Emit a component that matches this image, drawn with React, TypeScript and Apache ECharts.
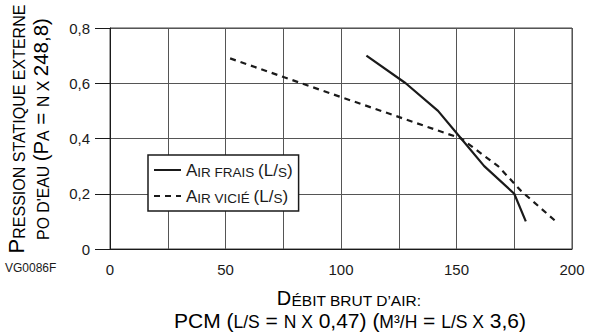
import React, { useEffect, useRef } from "react";
import * as echarts from "echarts";

const freshX = [111, 128, 142, 152, 162, 175, 180];
const freshY = [0.7, 0.6, 0.5, 0.4, 0.3, 0.2, 0.1];
const staleX = [52, 100, 152, 168, 178, 193];
const staleY = [0.69, 0.55, 0.4, 0.3, 0.21, 0.1];
const seriesNames = ["Air frais (L/s)", "Air vicié (L/s)"];
const legendRich = [
  "{b|A}{s|IR FRAIS }{b|(L/}{s|S}{b|)}",
  "{b|A}{s|IR VICIÉ }{b|(L/}{s|S}{b|)}",
];
const xTicks = [0, 50, 100, 150, 200];

const FONT = "'Liberation Sans', Arial, sans-serif";
const INK = "#1a1a1a";

function rs(size: number, lh = 22) {
  return { fontSize: size, fontFamily: FONT, color: INK, verticalAlign: "bottom" as const, lineHeight: lh };
}

export default function App() {
  const ref = useRef<HTMLDivElement>(null);
  useEffect(() => {
    if (!ref.current) return;
    const chart = echarts.init(ref.current, null, { renderer: "svg" });
    const pair = (xs: number[], ys: number[]) => xs.map((x, i) => [x, ys[i]]);
    chart.setOption({
      animation: false,
      backgroundColor: "#fff",
      grid: {
        left: 110,
        right: 26,
        top: 28,
        bottom: 86,
        show: true,
        borderColor: "#444",
        borderWidth: 1,
        backgroundColor: "transparent",
      },
      xAxis: {
        type: "value",
        min: 0,
        max: 200,
        interval: 25,
        axisLine: { show: true, lineStyle: { color: INK, width: 1 } },
        axisTick: { show: false },
        splitLine: { show: true, lineStyle: { color: "#555", width: 1 } },
        axisLabel: {
          fontSize: 15,
          fontFamily: FONT,
          color: INK,
          margin: 13,
          formatter: (v: number) => (xTicks.includes(v) ? String(v) : ""),
        },
      },
      yAxis: {
        type: "value",
        min: 0,
        max: 0.8,
        interval: 0.2,
        axisLine: { show: true, lineStyle: { color: INK, width: 1 } },
        axisTick: { show: true, length: 15, lineStyle: { color: INK, width: 1 } },
        splitLine: { show: true, lineStyle: { color: "#555", width: 1 } },
        axisLabel: {
          fontSize: 15,
          fontFamily: FONT,
          color: INK,
          margin: 20,
          formatter: (v: number) => (v === 0 ? "0" : v.toFixed(1).replace(".", ",")),
        },
      },
      legend: {
        orient: "vertical",
        left: 148,
        top: 155,
        padding: [7, 6, 6, 5],
        itemWidth: 27,
        itemHeight: 14,
        itemGap: 9,
        borderColor: INK,
        borderWidth: 1.5,
        backgroundColor: "#fff",
        data: seriesNames,
        itemStyle: { opacity: 0 },
        formatter: (name: string) => legendRich[seriesNames.indexOf(name)],
        textStyle: {
          rich: { b: rs(17, 18), s: rs(13.5, 18) },
        },
      },
      series: [
        {
          name: seriesNames[0],
          type: "line",
          data: pair(freshX, freshY),
          symbol: "none",
          lineStyle: { color: INK, width: 2.2, type: "solid" },
          itemStyle: { color: INK },
        },
        {
          name: seriesNames[1],
          type: "line",
          data: pair(staleX, staleY),
          symbol: "none",
          lineStyle: { color: INK, width: 2.2, type: [6, 5] },
          itemStyle: { color: INK },
        },
      ],
      graphic: [
        {
          type: "text",
          x: 27,
          y: 129,
          rotation: Math.PI / 2,
          style: {
            text: "{b|P}{s|RESSION STATIQUE EXTERNE}",
            align: "center",
            verticalAlign: "bottom",
            rich: { b: rs(22), s: rs(16) },
          },
        },
        {
          type: "text",
          x: 51,
          y: 129,
          rotation: Math.PI / 2,
          style: {
            text: "{s|PO D'EAU }{b|(P}{s|A}{b| = }{s|N X }{b|248,8)}",
            align: "center",
            verticalAlign: "bottom",
            rich: { b: rs(20.5), s: rs(15.8) },
          },
        },
        {
          type: "text",
          x: 5,
          y: 262,
          style: { text: "VG0086F", fontSize: 12, fontFamily: FONT, fill: INK },
        },
        {
          type: "text",
          x: 349,
          y: 308,
          style: {
            text: "{b|D}{s|ÉBIT BRUT D’AIR:}",
            align: "center",
            verticalAlign: "bottom",
            rich: { b: rs(20), s: rs(15.5) },
          },
        },
        {
          type: "text",
          x: 350,
          y: 331,
          style: {
            text: "{b|PCM (}{s|L/S}{b| = }{s|N X}{b| 0,47) (}{s|M³/H}{b| = }{s|L/S X}{b| 3,6)}",
            align: "center",
            verticalAlign: "bottom",
            rich: { b: rs(21), s: rs(17.5) },
          },
        },
      ],
    });
    return () => chart.dispose();
  }, []);
  return <div ref={ref} style={{ width: 598, height: 335, position: "fixed", left: 0, top: 0 }} />;
}
